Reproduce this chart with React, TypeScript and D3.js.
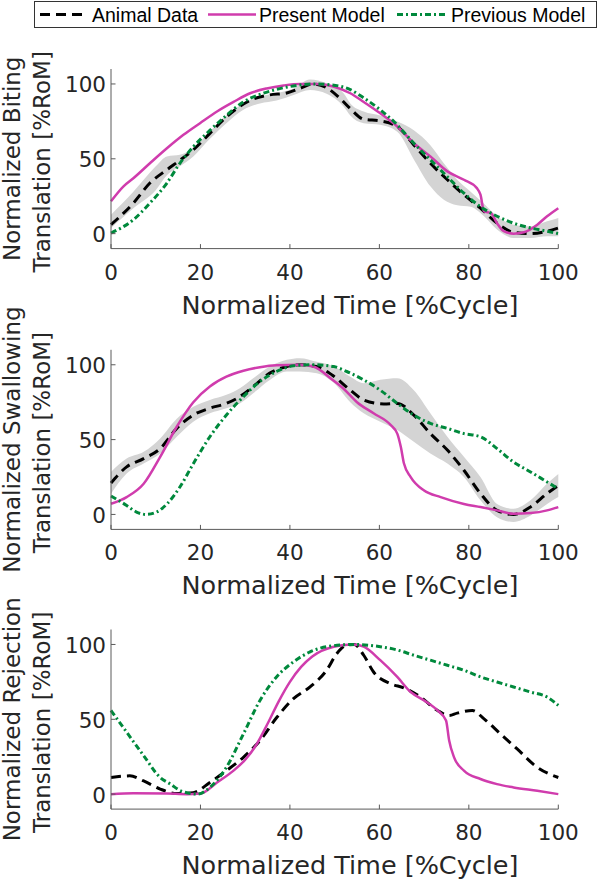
import React from "react";
import * as d3 from "d3";

type P = [number, number];
type B = [number, number, number];

// ---------- Biting ----------
const bitingAnimal: P[] = [[0,6],[5,20.4],[8.7,33.8],[12.5,42.7],[15.4,49],[18.4,56],[22.1,67],[25.1,76],[28.8,85],[31.8,90],[35.5,92.7],[39.3,94],[42.2,97],[45.2,100],[48.2,97.5],[51.2,90.4],[53.5,83.5],[56.5,76.4],[60.2,75.3],[64,71.6],[67.7,59.3],[71.4,47],[75.2,36],[78.9,26],[82.6,17],[86.3,7],[90,0.9],[93.8,0],[97.5,1.6],[100,3.8]];
const bitingBand: B[] = [[0,3.8,12.7],[5,17,28],[10,29,45],[12.5,39,51.6],[15.4,45,52.7],[18.4,51.6,57],[22,63,68],[25.8,73.8,79],[29.6,82.7,87],[33.3,87,91.6],[37,89,93.8],[40.8,92.7,97],[44.5,96,103],[48.2,93.5,100.4],[52,85,93.8],[53.5,79,87],[56.5,73.8,81.6],[60.2,72.7,79],[64,68,74.9],[67.7,49.6,69],[71.4,31.6,59],[74.4,22.7,47],[77.4,19,36],[80.4,18,28],[83.4,11.6,20],[86.3,2.7,11.6],[90,-2.9,6],[93.8,-2.9,4.9],[97.5,-1.8,8.2],[100,-1.8,10.4]];
const bitingPresent: P[] = [[0,21.6],[2.8,31.6],[5,37],[8.7,47],[12.5,57],[16.2,66],[19.9,73.8],[23.7,81.6],[27.4,88],[31.1,93.8],[34.8,97],[38.6,99],[42.3,100],[46.1,100],[49.5,98.5],[53.5,93.8],[56.5,88],[60.2,80.4],[64,71.6],[67.7,60.4],[71.4,51.6],[75.2,41.6],[78.9,36],[81.8,30.4],[82.6,26],[83.4,14.9],[84.9,13.8],[86.3,7],[87.8,1.6],[90,0],[92.3,0.9],[95.3,6],[97.5,11.6],[100,17]];
const bitingPrevious: P[] = [[0,0.4],[5,9.3],[8.7,20.4],[12.5,33.8],[15.4,47],[18.4,58],[22.1,69],[25.8,79],[29.6,88],[33.3,93],[37,96.4],[40.8,98.7],[45.2,100],[49.5,99.3],[53.5,96.2],[56.5,90.7],[60.2,82.7],[63.2,75],[67.7,60.4],[71.4,49.3],[75.2,38],[78.9,27],[82.6,18],[86.3,11.6],[90,7],[93.8,3.8],[97.5,1.6],[100,0]];

// ---------- Swallowing ----------
const swallowAnimal: P[] = [[0,21],[3.5,31.8],[7.3,37.3],[11,44],[14.7,57.5],[18.4,66.4],[22.1,71],[25.8,74.2],[28.8,78.7],[31.8,85.5],[35.5,94.4],[39.3,98.8],[42.2,100],[46,98.8],[49.5,93],[53.5,83],[56.5,76.5],[61,73.8],[64,74.2],[67.7,66.4],[71.4,54],[75.2,43],[78.9,29.5],[82.6,14],[86.3,2.7],[90,0],[93.8,5],[97.5,14],[100,19.4]];
const swallowBand: B[] = [[0,13.8,28.4],[3.5,27.3,37.3],[7.3,34,41.8],[11,40.7,50.8],[14.7,51.9,64],[18.4,62,72],[22.1,67.6,76.5],[25.8,71,79.9],[28.8,74.2,84.3],[31.8,81,91],[35.5,89.9,98.8],[39.3,95.5,103.3],[42.2,95.5,104.4],[46,94.4,102],[49.8,88,99],[53.5,75,92],[56.5,67.6,87.7],[60.2,62,90],[64,56.4,91],[67.7,48.5,83],[71.4,40.7,67.6],[75.2,34,51.9],[78.9,25,38.5],[82.6,9.4,25],[86.3,-1.8,7],[90,-5,3.8],[93.8,-0.7,9.4],[97.5,7,20.6],[100,11.6,27]];
const swallowPresent: P[] = [[0,7.1],[3.5,11.6],[7.3,20.5],[11,38.5],[14.7,58.6],[18.4,75],[22.1,85.5],[25.8,92],[29.6,96],[33.3,98.4],[37,99.7],[42.2,100],[45.2,98.8],[49.5,90],[52,84],[55,75],[58.7,67.6],[62.5,59.8],[64,54],[64.8,45],[65.5,34],[67,25],[70,16],[73.7,11.6],[78.9,7],[82.6,4.9],[86.3,2.7],[90,0.4],[93.8,0.9],[97.5,2.7],[100,4.9]];
const swallowPrevious: P[] = [[0,12.3],[3.5,6],[5.7,1.6],[7.9,0],[10.2,1.6],[12.5,7],[15.4,18.3],[18.4,33.9],[22.1,51.9],[25.8,66.4],[29.6,78.7],[33.3,88.8],[37,95.5],[40.8,99.3],[45.2,100],[49.8,98.8],[52.7,95.5],[56.5,89.9],[60.2,83],[64,74.2],[67.7,66.4],[71.4,60.8],[75.2,57.5],[78.9,54],[82.6,51.9],[86.3,44],[90,35],[93.8,28.4],[97.5,21.7],[100,17.2]];

// ---------- Rejection ----------
const rejectAnimal: P[] = [[0,11.1],[4.2,12.2],[7.3,8.8],[11,3.4],[14.7,0.4],[18.4,1],[22.1,7.8],[25.8,15.7],[29.6,24.6],[33.3,35.8],[37,51],[40.8,63.8],[44.5,71.6],[48.2,82.8],[50.5,94],[52.7,99.6],[54.4,100],[56.5,92.8],[58.7,81.6],[62.5,73.8],[65.5,71],[69.2,64.9],[73,55.9],[75.6,52.5],[77.4,54.1],[80.8,55.9],[83.4,50.3],[87.1,40.2],[90.8,30.2],[95.3,17.9],[100,11.1]];
const rejectPresent: P[] = [[0,0],[5,0.6],[12.5,0.4],[17,0],[20,0.4],[23.7,7.8],[27.4,15.7],[30,23],[32.5,33],[35,47],[37.5,62],[40,75],[42.5,85],[45,92],[49.8,98.5],[54.2,100],[56.5,98.5],[60.2,89.5],[64,78.3],[67,68.2],[70,62.6],[73,55.9],[74.9,49.2],[75.6,35.8],[76.7,24.6],[78.9,15.7],[82.6,10.1],[86.3,6.7],[90,4.5],[95.3,2.2],[100,0]];
const rejectPrevious: P[] = [[0,55.9],[3.5,41.4],[7.3,25.7],[11,11.1],[13.3,6.7],[15.6,2.2],[19.3,0],[22.1,4.5],[25.8,17.9],[29.6,40.2],[33.3,62.6],[37,78.3],[40.8,88.4],[44.5,95],[48.2,98.5],[54.2,100],[60.2,98.5],[64,96.3],[67.7,92.8],[71.4,89.5],[75.2,86.1],[78.9,82.8],[82.6,78.3],[86.3,74.9],[90,71.6],[93.8,68.2],[97.5,64.9],[100,59.3]];
const rejectBand: B[] = [];

const panelNames = ["Biting", "Swallowing", "Rejection"];
const xTicks = [0, 20, 40, 60, 80, 100];
const yTicks = [0, 50, 100];
const legendLabels = ["Animal Data", "Present Model", "Previous Model"];
const xTitle = "Normalized Time [%Cycle]";
const yTitle2 = "Translation [%RoM]";

const panels = [
  { name: panelNames[0], band: bitingBand, animal: bitingAnimal, present: bitingPresent, previous: bitingPrevious },
  { name: panelNames[1], band: swallowBand, animal: swallowAnimal, present: swallowPresent, previous: swallowPrevious },
  { name: panelNames[2], band: rejectBand, animal: rejectAnimal, present: rejectPresent, previous: rejectPrevious },
];

const W = 598, H = 882;
const X0 = 111, X1 = 558.3;
const tops = [69, 349.8, 629.5];
const PH = 179.6;
const MAGENTA = "#d03cad";
const GREEN = "#00893c";
const FONT = "'DejaVu Sans', sans-serif";

function Panel({ p, top }: { p: typeof panels[number]; top: number }) {
  const x = d3.scaleLinear().domain([0, 100]).range([X0, X1]);
  const y = d3.scaleLinear().domain([-10, 110]).range([top + PH, top]);
  const line = d3.line<P>().x(d => x(d[0])).y(d => y(d[1])).curve(d3.curveMonotoneX);
  const area = d3.area<B>().x(d => x(d[0])).y0(d => y(d[1])).y1(d => y(d[2])).curve(d3.curveMonotoneX);
  const bottom = top + PH;
  const cy = top + PH / 2;
  return (
    <g>
      {p.band.length > 0 && <path d={area(p.band) || ""} fill="#d4d4d4" stroke="none" />}
      <path d={line(p.animal) || ""} fill="none" stroke="#000" strokeWidth={3} strokeDasharray="10,6" />
      <path d={line(p.present) || ""} fill="none" stroke={MAGENTA} strokeWidth={2.5} />
      <path d={line(p.previous) || ""} fill="none" stroke={GREEN} strokeWidth={3} strokeDasharray="6,3,2,3" />
      <line x1={X0} x2={X0} y1={top} y2={bottom} stroke="#5a5a5a" strokeWidth={1} />
      <line x1={X0} x2={X1} y1={bottom} y2={bottom} stroke="#5a5a5a" strokeWidth={1} />
      {xTicks.map(t => (
        <g key={"x" + t}>
          <line x1={x(t)} x2={x(t)} y1={bottom} y2={bottom - 4.5} stroke="#5a5a5a" />
          <text x={x(t)} y={bottom + 31} textAnchor="middle" fontSize={21.5} fill="#262626" fontFamily={FONT}>{t}</text>
        </g>
      ))}
      {yTicks.map(t => (
        <g key={"y" + t}>
          <line x1={X0} x2={X0 + 4.5} y1={y(t)} y2={y(t)} stroke="#5a5a5a" />
          <text x={106} y={y(t) + 8.5} textAnchor="end" fontSize={21.5} fill="#262626" fontFamily={FONT}>{t}</text>
        </g>
      ))}
      <text x={350} y={bottom + 65} textAnchor="middle" fontSize={25.5} fill="#262626" fontFamily={FONT}>{xTitle}</text>
      <text transform={`translate(20,${cy}) rotate(-90)`} textAnchor="middle" fontSize={23} fill="#262626" fontFamily={FONT}>{"Normalized " + p.name}</text>
      <text transform={`translate(49.5,${cy + 3}) rotate(-90)`} textAnchor="middle" fontSize={23} fill="#262626" fontFamily={FONT}>{yTitle2}</text>
    </g>
  );
}

export default function App() {
  const lf = "'Liberation Sans', Arial, sans-serif";
  return (
    <div style={{ position: "absolute", left: 0, top: 0 }}>
      <svg width={W} height={H} style={{ display: "block", background: "#fff" }}>
        {panels.map((p, i) => <Panel key={p.name} p={p} top={tops[i]} />)}
        <g>
          <rect x={34.5} y={1.5} width={562} height={26} fill="#fff" stroke="#333" strokeWidth={1} />
          <line x1={40} x2={88} y1={14.5} y2={14.5} stroke="#000" strokeWidth={3} strokeDasharray="10,6" />
          <text x={92} y={21.5} fontSize={19.5} fontFamily={lf} fill="#000">{legendLabels[0]}</text>
          <line x1={208} x2={256} y1={14.5} y2={14.5} stroke={MAGENTA} strokeWidth={2.5} />
          <text x={259} y={21.5} fontSize={19.5} fontFamily={lf} fill="#000">{legendLabels[1]}</text>
          <line x1={397} x2={446} y1={14.5} y2={14.5} stroke={GREEN} strokeWidth={3} strokeDasharray="6,3,2,3" />
          <text x={451} y={21.5} fontSize={19.5} fontFamily={lf} fill="#000">{legendLabels[2]}</text>
        </g>
      </svg>
    </div>
  );
}
